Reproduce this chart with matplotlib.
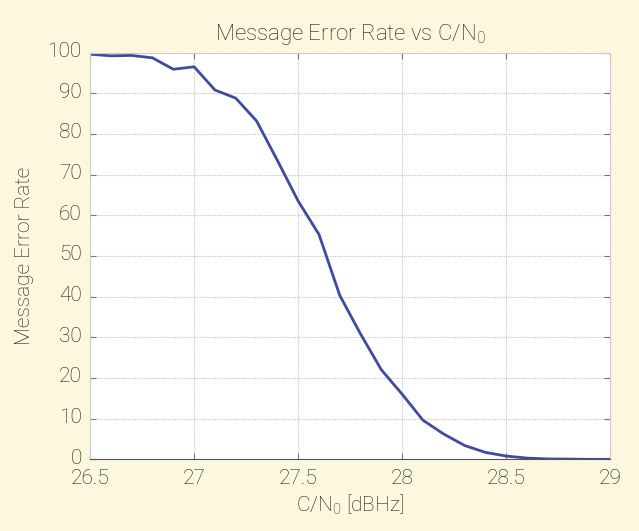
import matplotlib
matplotlib.use("Agg")
import matplotlib.pyplot as plt
import matplotlib.transforms as mtransforms
import numpy as np

cn0 = [26.5, 26.6, 26.7, 26.8, 26.9, 27.0, 27.1, 27.2, 27.3, 27.4, 27.5, 27.6, 27.7,
       27.8, 27.9, 28.0, 28.1, 28.2, 28.3, 28.4, 28.5, 28.6, 28.7, 28.8, 28.9, 29.0]
mer = [99.6, 99.2, 99.3, 98.7, 95.9, 96.5, 90.8, 88.8, 83.2, 73.5, 63.5, 55.3, 40.3,
       30.8, 22.0, 16.0, 9.6, 6.2, 3.4, 1.7, 0.8, 0.3, 0.1, 0.05, 0.0, 0.0]
xticks = [26.5, 27, 27.5, 28, 28.5, 29]
xticklabels = ["26.5", "27", "27.5", "28", "28.5", "29"]
yticks = [0, 10, 20, 30, 40, 50, 60, 70, 80, 90, 100]

plt.rcParams['font.family'] = ['Roboto', 'DejaVu Sans']
plt.rcParams['mathtext.fontset'] = 'custom'
plt.rcParams['mathtext.rm'] = 'Roboto:light'
plt.rcParams['mathtext.it'] = 'Roboto:light'

bg = '#FDF7DE'
tc = '#1A1A1A'
fig = plt.figure(figsize=(6.39, 5.31), dpi=100, facecolor=bg)
ax = fig.add_axes([0.141, 0.135, 0.814, 0.766])
ax.set_facecolor('white')
ax.plot(cn0, mer, color='#3E4B9E', lw=2.0)
ax.set_xlim(26.5, 29)
ax.set_ylim(0, 100)
ax.set_xticks(xticks)
ax.set_xticklabels(xticklabels)
ax.set_yticks(yticks)
ax.grid(True, color='#C4C4C4', linestyle=(0, (1, 1)), lw=0.8)
for s in ['top', 'right', 'left']:
    ax.spines[s].set_color('#CCCCCC')
    ax.spines[s].set_linewidth(0.8)
ax.spines['bottom'].set_color('#555555')
ax.tick_params(axis='both', which='both', direction='in', length=4, color='#777777',
               labelsize=15, labelcolor=tc, top=True, right=True)
ax.tick_params(axis='x', pad=7)
ax.tick_params(axis='y', pad=6)
up = mtransforms.ScaledTranslation(0, 3 / 100, fig.dpi_scale_trans)
for lab in ax.get_yticklabels():
    lab.set_fontweight('light')
    lab.set_transform(lab.get_transform() + up)
for lab in ax.get_xticklabels():
    lab.set_fontweight('light')
ax.set_title('Message Error Rate vs C/N$_0$', fontsize=16, color=tc,
             fontweight='light', pad=9)
ax.set_xlabel('C/N$_0$ [dBHz]', fontsize=15, color=tc, fontweight='light', labelpad=3)
ax.set_ylabel('Message Error Rate', fontsize=15, color=tc, fontweight='light', labelpad=10)
fig.savefig('out.png', dpi=100, facecolor=bg)
